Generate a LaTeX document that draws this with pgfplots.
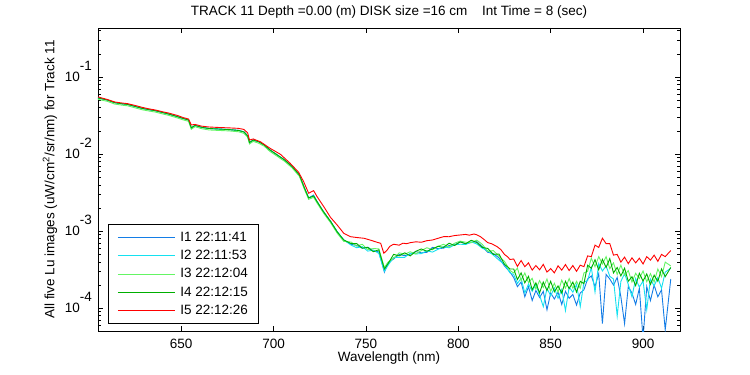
\documentclass[border=0pt]{standalone}
\usepackage{fontspec}
\setmainfont{Liberation Sans}
\usepackage{pgfplots}
\pgfplotsset{compat=1.18}
\usepackage{pgfplotstable}
\definecolor{cI1}{RGB}{20,125,230}
\definecolor{cI2}{RGB}{20,225,240}
\definecolor{cI3}{RGB}{100,245,100}
\definecolor{cI4}{RGB}{0,175,0}
\definecolor{cI5}{RGB}{255,0,0}
\pgfplotstableread{
nm I1 I2 I3 I4
605 0.0538 0.0538 0.0516 0.0538
610 0.0507 0.0507 0.0487 0.0507
614 0.0468 0.0468 0.0449 0.0468
618 0.0452 0.0452 0.0434 0.0452
621 0.0444 0.0444 0.0426 0.0444
625 0.0418 0.0418 0.0401 0.0418
629 0.0394 0.0394 0.0378 0.0394
633 0.0378 0.0378 0.0363 0.0378
636 0.0368 0.0368 0.0353 0.0368
640 0.0348 0.0348 0.0334 0.0348
643 0.0334 0.0334 0.0321 0.0334
648 0.0308 0.0308 0.0296 0.0308
651 0.0292 0.0292 0.0280 0.0292
654 0.0279 0.0279 0.0268 0.0279
655.5 0.0220 0.0220 0.0211 0.0220
657.5 0.0237 0.0237 0.0228 0.0237
661 0.0224 0.0224 0.0215 0.0224
665 0.0216 0.0216 0.0207 0.0216
670 0.0213 0.0213 0.0204 0.0213
676 0.0209 0.0209 0.0201 0.0209
681 0.0204 0.0204 0.0196 0.0204
684 0.0195 0.0195 0.0187 0.0195
686 0.0173 0.0173 0.0166 0.0173
687 0.0142 0.0142 0.0136 0.0142
689 0.0153 0.0153 0.0147 0.0153
692 0.0145 0.0145 0.0139 0.0145
695 0.0132 0.0132 0.0127 0.0132
698 0.0114 0.0114 0.0109 0.0114
702 0.0098 0.0098 0.0094 0.0098
706 0.00843 0.00843 0.00809 0.00843
710 0.00695 0.00695 0.00667 0.00695
714 0.00539 0.00539 0.00517 0.00539
716.5 0.00376 0.00376 0.00361 0.00376
719 0.00271 0.00271 0.00260 0.00271
721.7 0.00295 0.00287 0.00276 0.00287
723.6 0.00242 0.00242 0.00232 0.00242
727 0.00180 0.00180 0.00173 0.00180
731 0.00133 0.00133 0.00128 0.00133
734.4 0.000989 0.000989 0.000949 0.000989
738 0.000771 0.000771 0.000740 0.000771
742 6.76e-4 6.61e-4 7.24e-4 6.92e-4
745 6.55e-4 6.11e-4 6.40e-4 6.92e-4
748 6.03e-4 6.32e-4 6.78e-4 6.03e-4
751 6.21e-4 5.53e-4 5.79e-4 6.17e-4
754 5.56e-4 5.69e-4 5.96e-4 5.43e-4
757 5.40e-4 5.15e-4 5.92e-4 5.75e-4
760 2.95e-4 3.02e-4 3.39e-4 3.24e-4
762 3.89e-4 3.63e-4 3.98e-4 3.80e-4
765 4.37e-4 4.57e-4 4.47e-4 5.01e-4
768 5.01e-4 4.57e-4 5.25e-4 4.79e-4
771 4.81e-4 4.59e-4 5.04e-4 5.25e-4
774 5.06e-4 5.18e-4 5.42e-4 4.79e-4
777 5.44e-4 5.08e-4 5.08e-4 5.50e-4
780 5.25e-4 5.13e-4 5.62e-4 5.89e-4
783 5.33e-4 5.58e-4 6.12e-4 5.50e-4
786 6.17e-4 5.37e-4 5.75e-4 5.89e-4
789 5.96e-4 5.82e-4 6.38e-4 6.38e-4
792 6.03e-4 6.31e-4 6.76e-4 6.17e-4
795 6.53e-4 6.10e-4 6.24e-4 7.00e-4
798 6.68e-4 6.68e-4 7.00e-4 6.53e-4
801 7.28e-4 6.79e-4 7.45e-4 7.28e-4
804 6.89e-4 6.73e-4 7.21e-4 6.89e-4
807 7.13e-4 7.29e-4 7.13e-4 7.64e-4
810 7.33e-4 6.84e-4 7.67e-4 7.16e-4
813 6.31e-4 6.03e-4 6.76e-4 6.17e-4
816 5.33e-4 5.58e-4 5.46e-4 5.98e-4
819 5.13e-4 4.90e-4 5.62e-4 5.01e-4
822 4.52e-4 4.22e-4 4.73e-4 5.07e-4
825 3.55e-4 3.72e-4 4.07e-4 3.72e-4
828 2.95e-4 2.88e-4 3.09e-4 3.24e-4
830 2.51e-4 2.75e-4 2.88e-4 3.24e-4
832 1.91e-4 2.10e-4 3.33e-4 2.36e-4
834 2.19e-4 2.45e-4 2.29e-4 2.88e-4
836 1.41e-4 1.58e-4 2.88e-4 2.14e-4
838 1.91e-4 2.07e-4 2.16e-4 2.60e-4
840 1.26e-4 1.66e-4 2.45e-4 1.74e-4
842 1.70e-4 2.04e-4 1.78e-4 2.14e-4
844 1.38e-4 1.48e-4 2.29e-4 1.58e-4
846 1.66e-4 1.05e-4 1.86e-4 2.19e-4
848 9.55e-5 1.82e-4 2.40e-4 1.70e-4
850 1.58e-4 1.45e-4 1.66e-4 2.24e-4
852 1.32e-4 1.84e-4 2.11e-4 1.64e-4
854 1.62e-4 1.35e-4 1.62e-4 1.95e-4
856 1.12e-4 1.76e-4 2.32e-4 1.57e-4
858 1.66e-4 9.33e-5 1.82e-4 2.24e-4
860 1.35e-4 1.88e-4 2.43e-4 1.80e-4
862 1.51e-4 1.62e-4 1.82e-4 2.19e-4
864 1.10e-4 2.04e-4 2.24e-4 1.62e-4
866 1.58e-4 1.05e-4 1.82e-4 2.24e-4
868 1.74e-4 2.19e-4 2.88e-4 2.09e-4
870 2.40e-4 2.29e-4 3.02e-4 3.63e-4
872 2.63e-4 3.39e-4 4.47e-4 3.31e-4
874 1.91e-4 1.62e-4 3.47e-4 4.27e-4
876 2.82e-4 3.80e-4 4.68e-4 3.16e-4
878 6.31e-5 3.05e-4 3.76e-4 4.32e-4
880 2.75e-4 3.55e-4 4.68e-4 3.39e-4
882 2.40e-4 2.60e-4 3.27e-4 4.42e-4
884 2.00e-4 2.40e-4 3.89e-4 2.88e-4
886 2.51e-4 7.94e-5 2.75e-4 3.39e-4
888 1.41e-4 2.24e-4 3.63e-4 2.63e-4
890 6.31e-5 2.82e-4 2.69e-4 3.31e-4
892 1.91e-4 2.04e-4 3.09e-4 2.24e-4
894 1.58e-4 1.41e-4 2.19e-4 2.57e-4
896 1.12e-4 2.43e-4 2.85e-4 1.97e-4
898 1.82e-4 1.88e-4 2.43e-4 2.85e-4
900 3.98e-5 2.26e-4 3.05e-4 2.26e-4
902 1.91e-4 9.55e-5 2.21e-4 2.79e-4
904 1.26e-4 2.40e-4 2.82e-4 2.04e-4
906 2.00e-4 1.95e-4 2.19e-4 2.69e-4
908 1.41e-4 2.51e-4 3.24e-4 2.24e-4
910 1.74e-4 1.82e-4 2.57e-4 3.24e-4
912 5.25e-5 2.95e-4 3.98e-4 2.57e-4
915 2.40e-4 3.31e-4 3.55e-4 3.39e-4
}\lowtab
\pgfplotstableread{
nm I5
605 0.0555
610 0.0515
614 0.0478
618 0.0463
621 0.0454
625 0.0431
629 0.0406
633 0.0387
636 0.0376
640 0.0356
643 0.0344
648 0.0319
651 0.0300
654 0.0287
655.5 0.0240
657.5 0.0244
661 0.0232
665 0.0226
670 0.0223
676 0.0220
681 0.0217
684 0.0210
686 0.0189
687 0.0153
689 0.0158
693 0.0145
698 0.0120
703.7 0.0100
709 0.00764
713.6 0.00583
716.3 0.00441
719 0.00312
721.7 0.00337
723.6 0.00281
727.2 0.00209
730.8 0.00152
734.4 0.00121
738 0.000942
741.6 0.000851
745 0.000830
749 0.000811
753 0.000760
756 0.000720
758 0.000698
759.7 0.000518
761.5 0.000571
763 0.000640
765 0.000678
768 0.000660
770 0.000700
772 0.000690
774 0.000711
777 0.000730
780 0.000720
783 0.000755
786 0.000770
789 0.000810
792 0.000851
795 0.000850
798 0.000880
801 0.000895
804 0.000910
806 0.000890
808.5 0.000922
810 0.000900
812 0.000851
814 0.000780
816 0.000711
818 0.000690
821 0.000631
823 0.000580
825 0.000500
826.6 0.000468
828 0.000430
830 4.37e-4
832 3.50e-4
834 4.17e-4
836 3.47e-4
838 3.89e-4
840 3.13e-4
842 3.59e-4
844 3.16e-4
846 3.72e-4
848 2.95e-4
850 3.28e-4
852 2.88e-4
854 3.56e-4
856 3.13e-4
858 3.70e-4
860 3.09e-4
862 3.59e-4
864 3.02e-4
866 3.63e-4
868 3.47e-4
870 4.79e-4
872 4.68e-4
874 6.61e-4
876 6.17e-4
878 8.13e-4
880 6.92e-4
882 6.92e-4
884 4.90e-4
886 5.01e-4
888 3.98e-4
890 4.62e-4
892 3.80e-4
894 4.52e-4
896 3.89e-4
898 4.47e-4
900 3.76e-4
902 4.68e-4
904 4.22e-4
906 4.90e-4
908 4.07e-4
910 5.01e-4
912 4.68e-4
915 5.62e-4
}\redtab
\begin{document}
\fontsize{13.5}{16}\selectfont
\begin{tikzpicture}
\useasboundingbox (0,0) rectangle (750pt,375pt);
\begin{axis}[
  at={(98pt,44pt)}, anchor=south west,
  scale only axis, width=582pt, height=303pt,
  ymode=log, xmin=605, xmax=920, ymin=5.07e-5, ymax=0.436,
  xtick={650,700,750,800,850,900},
  ytick={1e-4,1e-3,1e-2,1e-1},
  yticklabels={{10\smash{\raisebox{11.5pt}{-4}}},{10\smash{\raisebox{11.5pt}{-3}}},{10\smash{\raisebox{11.5pt}{-2}}},{10\smash{\raisebox{11.5pt}{-1}}}},
  minor ytick={6e-5,7e-5,8e-5,9e-5,2e-4,3e-4,4e-4,5e-4,6e-4,7e-4,8e-4,9e-4,2e-3,3e-3,4e-3,5e-3,6e-3,7e-3,8e-3,9e-3,2e-2,3e-2,4e-2,5e-2,6e-2,7e-2,8e-2,9e-2,2e-1,3e-1,4e-1},
  tick align=inside,
  major tick length=5pt, minor tick length=3pt,
  axis line style={line width=0.8pt},
  tick style={line width=0.8pt, black},
  /pgf/number format/assume math mode=true,
  /pgf/number format/set thousands separator={},
  tick label style={font=\fontsize{13.5}{16}\selectfont},
  yticklabel style={xshift=-1.5pt},
  xticklabel style={yshift=-3pt},
  every axis title shift=0pt,
  title={TRACK 11 Depth =0.00 (m) DISK size =16 cm\hspace{11pt} Int Time = 8 (sec)},
  title style={at={(0.5,1.0528)}, anchor=center, font=\fontsize{13.5}{16}\selectfont},
  xlabel={Wavelength (nm)},
  xlabel style={at={(0.5,-0.0891)}, anchor=center, font=\fontsize{13.5}{16}\selectfont},
  ylabel={All five Lu images (uW/cm\textsuperscript{2}/sr/nm) for Track 11},
  ylabel style={at={(-0.0825,0.5)}, anchor=center, font=\fontsize{13.5}{16}\selectfont},
  every axis plot/.append style={mark=none, line width=0.9pt},
  legend image code/.code={\draw[#1] (0pt,0pt) -- (57pt,0pt);},
  legend cell align=left,
  legend style={at={(0.0172,0.0231)}, anchor=south west, draw=black, line width=0.8pt, fill=white,
    font=\fontsize{13.5}{16}\selectfont, inner xsep=9pt, inner ysep=5pt, row sep=2.9pt, column sep=3pt},
]
\addplot[cI1] table[x=nm, y=I1] {\lowtab};
\addlegendentry{I1 22:11:41}
\addplot[cI2] table[x=nm, y=I2] {\lowtab};
\addlegendentry{I2 22:11:53}
\addplot[cI3] table[x=nm, y=I3] {\lowtab};
\addlegendentry{I3 22:12:04}
\addplot[cI4] table[x=nm, y=I4] {\lowtab};
\addlegendentry{I4 22:12:15}
\addplot[cI5] table[x=nm, y=I5] {\redtab};
\addlegendentry{I5 22:12:26}
\end{axis}
\end{tikzpicture}
\end{document}
